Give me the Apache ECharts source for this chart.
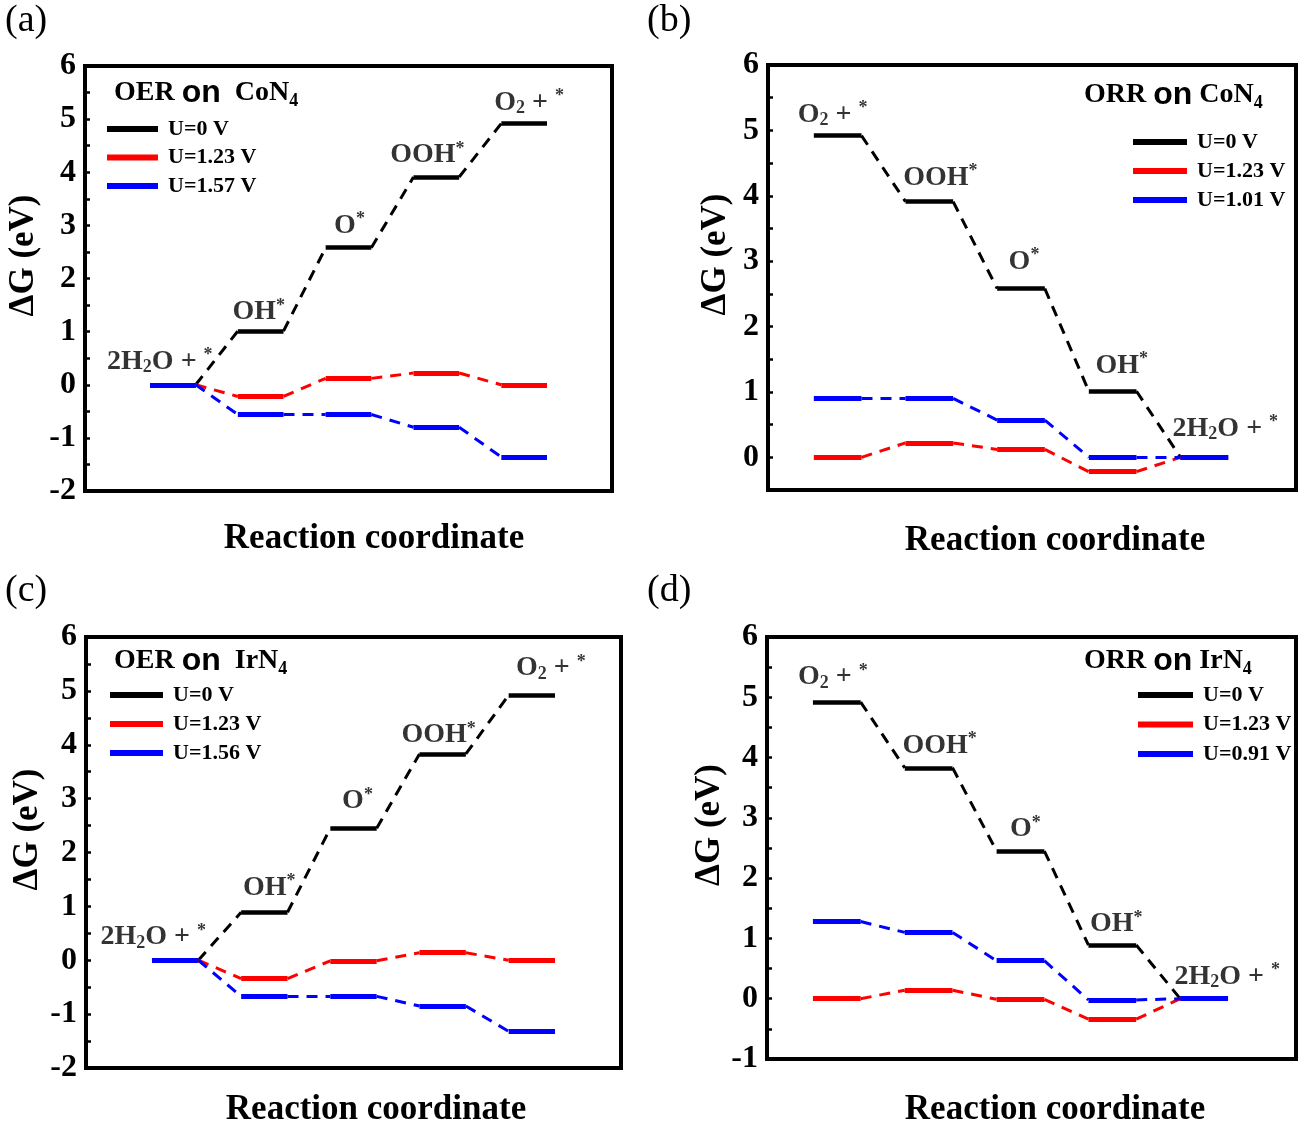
<!DOCTYPE html>
<html><head><meta charset="utf-8">
<script src="https://cdn.jsdelivr.net/npm/echarts@6/dist/echarts.min.js"></script>
<style>html,body{margin:0;padding:0;background:#fff}#c{width:1300px;height:1128px}</style>
</head><body><div id="c"></div>
<script>
// ---------- DATA ----------
const stepsOER = ['2H₂O + *', 'OH*', 'O*', 'OOH*', 'O₂ + *'];
const stepsORR = ['O₂ + *', 'OOH*', 'O*', 'OH*', '2H₂O + *'];

// (a) OER on CoN4
const coOER_names = ['U=0 V', 'U=1.23 V', 'U=1.57 V'];
const coOER_U0   = [0, 1.01, 2.58, 3.91, 4.92];
const coOER_U123 = [0, -0.22, 0.12, 0.22, 0];
const coOER_U157 = [0, -0.56, -0.56, -0.80, -1.36];

// (b) ORR on CoN4
const coORR_names = ['U=0 V', 'U=1.23 V', 'U=1.01 V'];
const coORR_U0   = [4.92, 3.91, 2.58, 1.01, 0];
const coORR_U123 = [0, 0.22, 0.12, -0.22, 0];
const coORR_U101 = [0.90, 0.90, 0.57, 0, 0];

// (c) OER on IrN4
const irOER_names = ['U=0 V', 'U=1.23 V', 'U=1.56 V'];
const irOER_U0   = [0, 0.89, 2.45, 3.83, 4.92];
const irOER_U123 = [0, -0.34, -0.01, 0.14, 0];
const irOER_U156 = [0, -0.67, -0.67, -0.85, -1.32];

// (d) ORR on IrN4
const irORR_names = ['U=0 V', 'U=1.23 V', 'U=0.91 V'];
const irORR_U0   = [4.92, 3.83, 2.45, 0.89, 0];
const irORR_U123 = [0, 0.14, -0.01, -0.34, 0];
const irORR_U091 = [1.28, 1.10, 0.63, -0.02, 0];

const yAxisLabel = 'ΔG (eV)';
const xAxisLabel = 'Reaction coordinate';

// ---------- STYLE / LAYOUT ----------
const SERIF = "'Liberation Serif','Times New Roman',serif";
const SANS = "'Liberation Sans',Arial,sans-serif";
const COLORS = ['#000000', '#ff0000', '#0000ff'];
const HW = 0.26; // half width of a level

const panels = [
  { letter: '(a)', letterPos: [5, 2], title: '{t|OER} {on|on}  {t|CoN}{sub|4}', titlePos: [114, 76],
    grid: { left: 85, top: 66, width: 527, height: 425 }, x: [0, 6], y: [-2, 6],
    steps: stepsOER, names: coOER_names, vals: [coOER_U0, coOER_U123, coOER_U157],
    offs: [[-13, -23], [-2, -19], [1, -22], [-9, -22], [5, -21]],
    legend: { left: 107, top: 118, w: 49, gap: 6.5 }, yGap: 44, xGap: 30, xPad: 51 },
  { letter: '(b)', letterPos: [647, 2], title: '{t|ORR} {on|on} {t|CoN}{sub|4}', titlePos: [1084, 78],
    grid: { left: 768, top: 65, width: 528, height: 425 }, x: [0.24, 6], y: [-0.5, 6],
    steps: stepsORR, names: coORR_names, vals: [coORR_U0, coORR_U123, coORR_U101],
    offs: [[-5, -21], [11, -24], [3, -27], [9, -26], [21, -29]],
    legend: { left: 1133, top: 131, w: 52, gap: 7 }, yGap: 35, xGap: 33, xPad: 46 },
  { letter: '(c)', letterPos: [5, 572], title: '{t|OER} {on|on}  {t|IrN}{sub|4}', titlePos: [114, 644],
    grid: { left: 86, top: 637, width: 535, height: 431 }, x: [0, 6], y: [-2, 6],
    steps: stepsOER, names: irOER_names, vals: [irOER_U0, irOER_U123, irOER_U156],
    offs: [[-22, -23], [5, -25], [4, -27], [-4, -19], [19, -27]],
    legend: { left: 110, top: 684, w: 51, gap: 7 }, yGap: 41, xGap: 24, xPad: 45 },
  { letter: '(d)', letterPos: [647, 572], title: '{t|ORR} {on|on} {t|IrN}{sub|4}', titlePos: [1084, 644],
    grid: { left: 767, top: 637, width: 529, height: 426 }, x: [0.24, 6], y: [-1, 6],
    steps: stepsORR, names: irORR_names, vals: [irORR_U0, irORR_U123, irORR_U091],
    offs: [[-4, -25], [11, -22], [5, -22], [4, -21], [23, -22]],
    legend: { left: 1138, top: 684, w: 53, gap: 7.5 }, yGap: 39, xGap: 33, xPad: 47 }
];

function richName(s) {
  return s.replace(/₂/g, '{sub|2}').replace(/\*/g, '{sup|*}');
}
const labelRich = {
  sub: { fontFamily: SERIF, fontWeight: 'bold', fontSize: 18, lineHeight: 14, verticalAlign: 'bottom', color: '#000' },
  sup: { fontFamily: SERIF, fontWeight: 'bold', fontSize: 18, lineHeight: 14, verticalAlign: 'top', color: '#000' }
};

const option = { animation: false, backgroundColor: '#fff', grid: [], xAxis: [], yAxis: [], series: [], legend: [], title: [] };

panels.forEach((p, k) => {
  option.grid.push(Object.assign({ show: true, borderColor: '#000', borderWidth: 4, containLabel: false }, p.grid));
  option.xAxis.push({
    type: 'value', gridIndex: k, min: p.x[0], max: p.x[1],
    axisLine: { show: false }, axisTick: { show: false }, axisLabel: { show: false }, splitLine: { show: false },
    name: xAxisLabel, nameLocation: 'middle', nameGap: p.xGap,
    nameTextStyle: { fontFamily: SERIF, fontWeight: 'bold', fontSize: 35, color: '#000', padding: [0, 0, 0, p.xPad] }
  });
  const ticks = [], labs = [];
  for (let v = p.y[0]; v <= p.y[1] + 1e-9; v += 0.5) { ticks.push(v); if (Math.abs(v - Math.round(v)) < 1e-9) labs.push(v); }
  option.yAxis.push({
    type: 'value', gridIndex: k, min: p.y[0], max: p.y[1],
    axisLine: { show: false },
    axisTick: { show: true, inside: true, length: 5, lineStyle: { color: '#000', width: 2.5 }, customValues: ticks },
    axisLabel: { show: true, customValues: labs, margin: 9, fontFamily: SERIF, fontWeight: 'bold', fontSize: 32, color: '#000' },
    splitLine: { show: false },
    name: yAxisLabel, nameLocation: 'middle', nameRotate: 90, nameGap: p.yGap,
    nameTextStyle: { fontFamily: SERIF, fontWeight: 'bold', fontSize: 35, color: '#000', padding: [0, 0, 0, 46] }
  });

  p.vals.forEach((vals, s) => {
    const col = COLORS[s];
    // dashed connectors
    option.series.push({
      type: 'lines', coordinateSystem: 'cartesian2d', xAxisIndex: k, yAxisIndex: k, silent: true,
      z: 2 + s,
      lineStyle: { color: col, width: 3, type: [11, 8], opacity: 1 },
      data: vals.slice(0, -1).map((v, i) => ({ coords: [[i + 1 + HW, v], [i + 2 - HW, vals[i + 1]]] }))
    });
    // solid levels
    option.series.push({
      type: 'lines', name: p.names[s], coordinateSystem: 'cartesian2d', xAxisIndex: k, yAxisIndex: k, silent: true,
      z: 5 + s, color: col,
      lineStyle: { color: col, width: s === 0 ? 4.5 : 5, type: 'solid', opacity: 1 },
      data: vals.map((v, i) => ({ coords: [[i + 1 - HW, v], [i + 1 + HW, v]] }))
    });
  });
  // species labels on U=0 levels
  option.series.push({
    type: 'scatter', xAxisIndex: k, yAxisIndex: k, symbolSize: 0.1, silent: true, z: 10,
    itemStyle: { color: 'rgba(0,0,0,0)' },
    label: {
      show: true, position: 'inside', fontFamily: SERIF, fontWeight: 'bold', fontSize: 28, lineHeight: 30, color: '#000',
      formatter: (d) => richName(p.steps[d.dataIndex]), rich: labelRich
    },
    data: p.vals[0].map((v, i) => ({ value: [i + 1, v], label: { offset: p.offs[i] } }))
  });

  option.legend.push({
    orient: 'vertical', left: p.legend.left, top: p.legend.top, itemWidth: p.legend.w, itemHeight: 4,
    itemGap: p.legend.gap, selectedMode: false, padding: 0,
    textStyle: { fontFamily: SERIF, fontWeight: 'bold', fontSize: 22, lineHeight: 22, color: '#000', padding: [0, 0, 0, 6] },
    data: p.names.map((n, s) => ({ name: n, icon: 'rect', itemStyle: { color: COLORS[s] } }))
  });

  option.title.push({
    text: p.letter, left: p.letterPos[0], top: p.letterPos[1], padding: 0,
    textStyle: { fontFamily: SERIF, fontWeight: 'normal', fontSize: 38, lineHeight: 38, color: '#000' }
  });
  option.title.push({
    text: p.title, left: p.titlePos[0], top: p.titlePos[1], padding: 0,
    textStyle: {
      fontFamily: SERIF, fontWeight: 'bold', fontSize: 28, lineHeight: 34, color: '#000',
      rich: {
        t: { fontFamily: SERIF, fontWeight: 'bold', fontSize: 28, lineHeight: 34, color: '#000' },
        on: { fontFamily: SANS, fontWeight: 'bold', fontSize: 32, lineHeight: 34, color: '#000' },
        sub: { fontFamily: SERIF, fontWeight: 'bold', fontSize: 18, lineHeight: 14, verticalAlign: 'bottom', color: '#000' }
      }
    }
  });
});

const chart = echarts.init(document.getElementById('c'), null, { renderer: 'canvas' });
chart.setOption(option);
</script></body></html>
